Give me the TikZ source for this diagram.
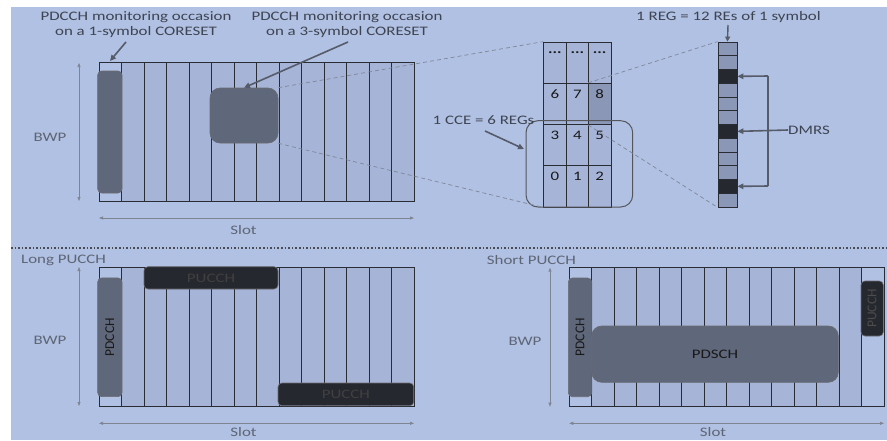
\documentclass[tikz,border=0pt]{standalone}
\usepackage{fontspec}
\setmainfont[FakeStretch=1.3]{Carlito}
\newfontfamily\vfont{Carlito}
\usetikzlibrary{arrows.meta,calc}
\definecolor{bg}{HTML}{B1C1E3}
\definecolor{colf}{HTML}{A6B4D8}
\definecolor{pdf}{HTML}{5F677A}
\definecolor{dk}{HTML}{26282F}
\definecolor{ref}{HTML}{8B97B6}
\definecolor{txt}{HTML}{3E4451}
\definecolor{dimc}{HTML}{5E6574}
\definecolor{arrc}{HTML}{555B68}
\definecolor{dashc}{HTML}{7F8799}
\definecolor{gridc}{HTML}{2A2C33}
\newcommand\mydots{\textbf{...}}
\tikzset{
  lbl/.style={text=txt,font=\fontsize{13}{15}\selectfont,inner sep=0pt,align=center},
  dimlbl/.style={text=dimc,font=\fontsize{13}{15}\selectfont,inner sep=0pt},
  pointer/.style={draw=arrc,line width=1.6pt,-{Triangle[length=6pt,width=5.5pt]}},
  dimarrow/.style={draw=dimc!80,line width=0.6pt,{Triangle[length=4pt,width=3pt]}-{Triangle[length=4pt,width=3pt]}},
  colbox/.style={draw=gridc,line width=0.8pt,fill=colf},
  litebox/.style={draw=gridc,line width=0.8pt,fill=bg},
  chan/.style={draw=gridc!70,line width=0.6pt,rounded corners=4pt,minimum width=#1,inner sep=0pt},
  pdc/.style={chan=#1,fill=pdf},
  dkc/.style={chan=#1,fill=dk},
  cell/.style={draw=gridc,line width=0.8pt,fill=colf,minimum width=22.4pt,minimum height=41.25pt,inner sep=0pt},
  num/.style={text=black!90,font=\fontsize{13}{15}\selectfont,inner sep=0pt},
  rebox/.style={draw=gridc,line width=0.8pt,fill=ref,minimum width=19pt,minimum height=13.75pt,inner sep=0pt},
  dashl/.style={draw=dashc,line width=0.7pt,dash pattern=on 4pt off 3pt},
  vtext/.style={rotate=90,text=black!90,font=\vfont\fontsize{13.5}{15}\selectfont,inner sep=0pt},
  htext/.style={font=\fontsize{13}{15}\selectfont,inner sep=0pt},
}
\begin{document}
\begin{tikzpicture}[x=1pt,y=-1pt]
\useasboundingbox (0,0) rectangle (887,440);
\clip (0,0) rectangle (887,440);
\fill[white] (0,0) rectangle (887,440);
\fill[bg] (11,7) rectangle (887,440);

% ---------------- top slot grid ----------------
\foreach \i in {1,...,13} \draw[colbox] ({99+22.5*\i},62) rectangle ++(22.5,139);
\draw[litebox] (99,62) rectangle ++(22.5,139);
\node[pdc=24.3pt,minimum height=122pt,rounded corners=4pt] (pd1) at (109.85,132) {};
\node[pdc=68pt,minimum height=55pt,rounded corners=10pt] (core) at (244,115.5) {};

\node[lbl] (lab1) at (136,24.5) {PDCCH monitoring occasion\\on a 1-symbol CORESET};
\node[lbl] (lab2) at (347,24.5) {PDCCH monitoring occasion\\on a 3-symbol CORESET};
\coordinate (a1s) at (126,42);
\coordinate (a1e) at (110,61);
\draw[pointer] (a1s) -- (a1e);
\coordinate (a2s) at (348,42);
\draw[pointer] (a2s) -- (core.north);

\coordinate (bwpt1) at (79,63); \coordinate (bwpb1) at (79,201);
\draw[dimarrow] (bwpt1) -- (bwpb1);
\node[dimlbl] (bwp1) at (50,137) {BWP};
\coordinate (slotl1) at (99,218); \coordinate (slotr1) at (414,218);
\draw[dimarrow] (slotl1) -- (slotr1);
\node[dimlbl] (slot1) at (243.5,230) {Slot};

% ---------------- CCE grid ----------------
\foreach \r/\a/\b/\c in {0/\mydots/\mydots/\mydots, 1/6/7/8, 2/3/4/5, 3/0/1/2}{
  \node[cell] (c\r a) at ({543.7+11.2},{42+41.25*\r+20.625}) {};
  \node[cell] (c\r b) at ({543.7+33.6},{42+41.25*\r+20.625}) {};
  \node[cell] (c\r c) at ({543.7+56.0},{42+41.25*\r+20.625}) {};
  \node[num] at ({543.7+11.2},{42+41.25*\r+11}) {\a};
  \node[num] at ({543.7+33.6},{42+41.25*\r+11}) {\b};
  \node[num] at ({543.7+56.0},{42+41.25*\r+11}) {\c};
}
\node[cell,fill=ref] (c1c) at ({543.7+56.0},{42+41.25+20.625}) {};
\node[num] at ({543.7+56.0},{42+41.25+11}) {8};

\node[draw=gridc!80,line width=1pt,rounded corners=12pt,minimum width=106.7pt,minimum height=86.3pt,inner sep=0pt] (cce) at (579.35,163.85) {};
\node[lbl] (ccelab) at (483.5,120) {1 CCE = 6 REGs};
\coordinate (a3s) at (485,131);
\coordinate (a3e) at (524,149);
\draw[pointer] (a3s) -- (a3e);

\draw[dashl] (core.north east) -- (c0a.north west);
\draw[dashl] (core.south east) -- (c3a.south west);

% ---------------- RE column ----------------
\foreach \k in {0,...,11}{
  \node[rebox] (re\k) at (727.5,{42+13.75*\k+6.875}) {};
}
\foreach \k in {2,6,10}{
  \node[rebox,fill=dk] (re\k) at (727.5,{42+13.75*\k+6.875}) {};
}
\draw[dashl] (c1c.north west) -- (re0.north west);
\draw[dashl] (c1c.south west) -- (re11.south west);

\node[lbl] (reglab) at (728.5,17) {1 REG = 12 REs of 1 symbol};
\coordinate (a4s) at (728,25);
\draw[draw=arrc,line width=1.4pt,-{Triangle[length=5pt,width=5pt]}] (a4s) -- (re0.north);

\node[lbl,anchor=west] (dmrs) at (788,130) {DMRS};
\coordinate (bt) at (768,76);
\coordinate (bb) at (768,186);
\draw[draw=arrc,line width=1.6pt] (bt) -- (bb);
\draw[pointer] (bt) -- (re2.east);
\draw[pointer] (bb) -- (re10.east);
\draw[pointer] (dmrs.west) -- (re6.east);

% ---------------- separator ----------------
\coordinate (sepl) at (11,248);
\coordinate (sepr) at (887,248);
\draw[draw=gridc!85,line width=1.6pt,dash pattern=on 1.6pt off 2pt] (sepl) -- (sepr);

% ---------------- Long PUCCH ----------------
\node[dimlbl,anchor=west] (longlab) at (21,260.7) {Long PUCCH};
\foreach \i in {1,...,13} \draw[colbox] ({99+22.5*\i},267) rectangle ++(22.5,139.7);
\draw[litebox] (99,267) rectangle ++(22.5,139.7);
\node[pdc=24.3pt,minimum height=118.7pt] (pd2) at (109.85,337.3) {};
\node[vtext] at (pd2) {PDCCH};
\node[dkc=134pt,minimum height=22.3pt] (pu1) at (211,277.85) {};
\node[htext,text=black!75] at (pu1) {PUCCH};
\node[dkc=135.7pt,minimum height=22.7pt] (pu2) at (345.85,394.35) {};
\node[htext,text=black!75] at (pu2) {PUCCH};

\coordinate (bwpt2) at (79,267); \coordinate (bwpb2) at (79,406);
\draw[dimarrow] (bwpt2) -- (bwpb2);
\node[dimlbl] (bwp2) at (50,340.7) {BWP};
\coordinate (slotl2) at (99,423.3); \coordinate (slotr2) at (414,423.3);
\draw[dimarrow] (slotl2) -- (slotr2);
\node[dimlbl] (slot2) at (243.5,432) {Slot};

% ---------------- Short PUCCH ----------------
\node[dimlbl,anchor=west] (shortlab) at (486.7,260) {Short PUCCH};
\foreach \i in {1,...,12} \draw[colbox] ({569.3+22.48*\i},267.7) rectangle ++(22.48,139);
\draw[litebox] (569.3,267.7) rectangle ++(22.48,139);
\draw[litebox] ({569.3+22.48*13},267.7) rectangle ++(22.48,139);
\node[pdc=23.4pt,minimum height=118.7pt] (pd3) at (580,337.35) {};
\node[vtext] at (pd3) {PDCCH};
\node[pdc=246.6pt,minimum height=56.3pt,rounded corners=10pt] (pdsch) at (715,354.15) {};
\node[htext,text=black!90] at (pdsch) {PDSCH};
\node[dkc=22.3pt,minimum height=55pt] (pu3) at (872.15,308.5) {};
\node[vtext,text=black!70] at (pu3) {PUCCH};

\coordinate (bwpt3) at (550,267.7); \coordinate (bwpb3) at (550,406.7);
\draw[dimarrow] (bwpt3) -- (bwpb3);
\node[dimlbl] (bwp3) at (525,341.7) {BWP};
\coordinate (slotl3) at (569.3,423.3); \coordinate (slotr3) at (884,423.3);
\draw[dimarrow] (slotl3) -- (slotr3);
\node[dimlbl] (slot3) at (713,432) {Slot};
\end{tikzpicture}
\end{document}
